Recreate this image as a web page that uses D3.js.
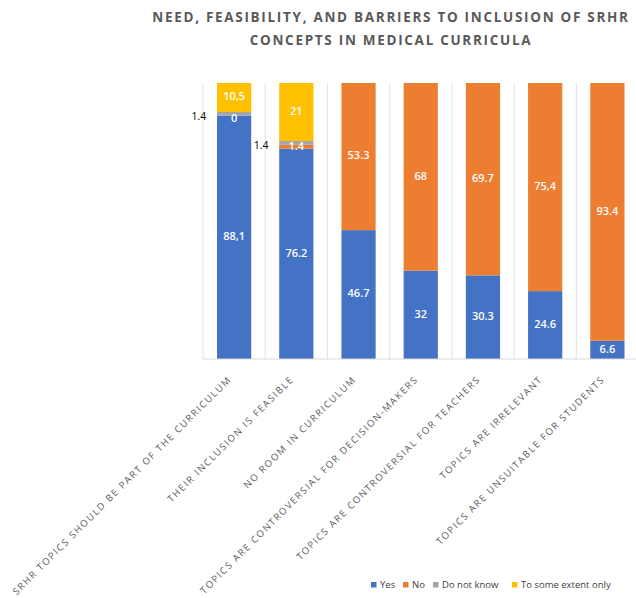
<!DOCTYPE html>
<html>
<head>
<meta charset="utf-8">
<script src="https://cdn.jsdelivr.net/npm/d3@7"></script>
<style>
  body { margin: 0; background: #fff; }
  svg { display: block; }
  text { font-family: "Open Sans", "Liberation Sans", sans-serif; }
</style>
</head>
<body>
<svg id="chart" width="636" height="598"></svg>
<script>
const categories = [
  "SRHR TOPICS SHOULD BE PART OF THE CURRICULUM",
  "THEIR INCLUSION IS FEASIBLE",
  "NO ROOM IN CURRICULUM",
  "TOPICS ARE CONTROVERSIAL FOR DECISION-MAKERS",
  "TOPICS ARE CONTROVERSIAL FOR TEACHERS",
  "TOPICS ARE IRRELEVANT",
  "TOPICS ARE UNSUITABLE FOR STUDENTS"
];
const seriesNames = ["Yes", "No", "Do not know", "To some extent only"];
const yesValues  = [88.1, 76.2, 46.7, 32, 30.3, 24.6, 6.6];
const noValues   = [0, 1.4, 53.3, 68, 69.7, 75.4, 93.4];
const dkValues   = [1.4, 1.4, 0, 0, 0, 0, 0];
const someValues = [10.5, 21, 0, 0, 0, 0, 0];
const yesLabels  = ["88,1", "76.2", "46.7", "32", "30.3", "24.6", "6.6"];
const noLabels   = ["0", "1.4", "53.3", "68", "69.7", "75,4", "93.4"];
const dkLabels   = ["1.4", "1.4", "", "", "", "", ""];
const someLabels = ["10,5", "21", "", "", "", "", ""];
const titleLines = ["NEED, FEASIBILITY, AND BARRIERS TO INCLUSION OF SRHR", "CONCEPTS IN MEDICAL CURRICULA"];

const colors = ["#4472C4", "#ED7D31", "#A5A5A5", "#FFC000"];
const valueSets = [yesValues, noValues, dkValues, someValues];
const labelSets = [yesLabels, noLabels, dkLabels, someLabels];

const table = categories.map((c, i) => {
  const row = { cat: c };
  seriesNames.forEach((s, k) => row[s] = valueSets[k][i]);
  return row;
});

const svg = d3.select("#chart");
const plotLeft = 203, plotRight = 638.5, plotTop = 83, plotBottom = 359;

const x = d3.scaleBand().domain(categories).range([plotLeft, plotRight]).paddingInner(0.45).paddingOuter(0.225);
const y = d3.scaleLinear().domain([0, 100]).range([plotBottom, plotTop]);

// Title
svg.append("g").selectAll("text").data(titleLines).join("text")
  .attr("x", 391).attr("y", (d, i) => 22 + i * 22.5)
  .attr("text-anchor", "middle")
  .attr("font-size", 13.5).attr("font-weight", "bold")
  .attr("letter-spacing", 1.7)
  .attr("fill", "#595959")
  .text(d => d);

// Vertical gridlines at category boundaries
const step = x.step();
const bounds = d3.range(categories.length + 1).map(i => plotLeft + i * step);
svg.append("g").selectAll("line").data(bounds).join("line")
  .attr("x1", d => d).attr("x2", d => d)
  .attr("y1", plotTop).attr("y2", plotBottom)
  .attr("stroke", "#e3e3e3").attr("stroke-width", 1);

// Stack
const stack = d3.stack().keys(seriesNames);
const stacked = stack(table);

const groups = svg.append("g").selectAll("g").data(stacked).join("g")
  .attr("fill", (d, k) => colors[k]);
groups.selectAll("rect").data(d => d).join("rect")
  .attr("x", d => x(d.data.cat))
  .attr("width", x.bandwidth())
  .attr("y", d => y(d[1]))
  .attr("height", d => y(d[0]) - y(d[1]));

// Bottom axis line
svg.append("line")
  .attr("x1", plotLeft).attr("x2", plotRight)
  .attr("y1", plotBottom).attr("y2", plotBottom)
  .attr("stroke", "#d9d9d9");

// Data labels
stacked.forEach((layer, k) => {
  layer.forEach((d, i) => {
    const lab = labelSets[k][i];
    if (!lab) return;
    const mid = (y(d[0]) + y(d[1])) / 2;
    if (k === 2) {
      svg.append("text")
        .attr("x", x(d.data.cat) - 18).attr("y", mid + 3)
        .attr("text-anchor", "middle").attr("dominant-baseline", "middle")
        .attr("font-size", 10.5).attr("fill", "#000")
        .text(lab);
    } else {
      svg.append("text")
        .attr("x", x(d.data.cat) + x.bandwidth() / 2).attr("y", mid + (k === 1 && d[1] - d[0] === 0 ? 3 : 0))
        .attr("text-anchor", "middle").attr("dominant-baseline", "middle")
        .attr("font-size", 11).attr("font-weight", 600).attr("fill", "#fff")
        .text(lab);
    }
  });
});

// Category axis labels rotated -45
const xAxis = d3.axisBottom(x).tickSize(0).tickPadding(0);
const axisG = svg.append("g").attr("transform", `translate(0,${plotBottom})`).call(xAxis);
axisG.select(".domain").remove();
axisG.selectAll(".tick text")
  .attr("font-family", "\"Open Sans\", sans-serif")
  .attr("font-size", 9.5)
  .attr("letter-spacing", 1.55)
  .attr("fill", "#595959")
  .attr("text-anchor", "end")
  .attr("dy", 0)
  .attr("transform", "translate(-2,21) rotate(-45)");

// Legend
const legendX = [371, 403, 433, 512];
const lg = svg.append("g").selectAll("g").data(seriesNames).join("g")
  .attr("transform", (d, i) => `translate(${legendX[i]},582)`);
lg.append("rect").attr("width", 5.5).attr("height", 5.5).attr("fill", (d, i) => colors[i]);
lg.append("text").attr("x", 9).attr("y", 6)
  .attr("font-size", 9.5).attr("fill", "#404040")
  .text(d => d);
</script>
</body>
</html>
